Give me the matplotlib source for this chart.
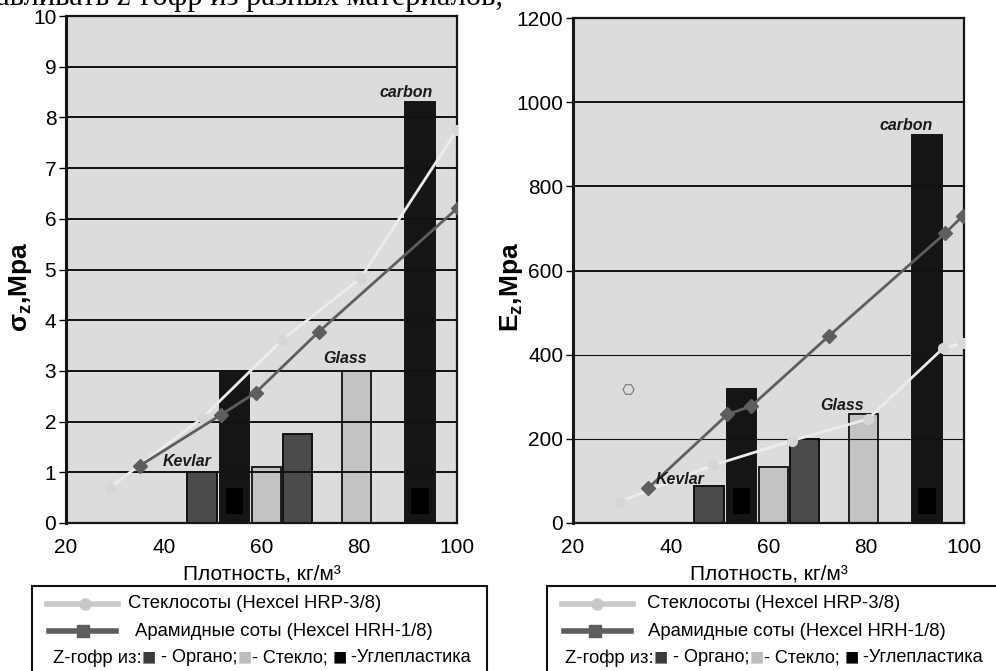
import matplotlib
matplotlib.use("Agg")
import matplotlib.pyplot as plt
import matplotlib.text as mtext
from matplotlib.patches import Rectangle
from matplotlib.lines import Line2D

plt.rcParams['font.family'] = ['Liberation Sans', 'DejaVu Sans']
plt.rcParams['mathtext.fontset'] = 'custom'
plt.rcParams['mathtext.rm'] = 'Liberation Sans'
plt.rcParams['mathtext.it'] = 'Liberation Sans:italic'
plt.rcParams['mathtext.bf'] = 'Liberation Sans:bold'

# ---------------- data ----------------
bar_x = [47.8, 54.5, 61.0, 67.4, 79.4, 92.4]
bar_type = ['organo', 'carbon', 'glass', 'organo', 'glass', 'carbon']
sigma_bars = [1.0, 3.0, 1.1, 1.75, 3.0, 8.3]
E_bars = [89, 319, 132, 199, 258, 923]

glass_hc_x_sigma = [29.0, 48.0, 64.2, 80.3, 100.0]
glass_hc_sigma = [0.70, 2.08, 3.61, 4.83, 7.75]
aramid_x_sigma = [35.1, 51.8, 58.8, 71.7, 100.2]
aramid_sigma = [1.13, 2.14, 2.57, 3.77, 6.22]

glass_hc_x_E = [29.6, 48.6, 64.9, 80.3, 95.7, 99.7]
glass_hc_E = [51, 137, 196, 247, 415, 427]
aramid_x_E = [35.3, 51.6, 56.5, 72.4, 96.1, 99.8]
aramid_E = [82, 258, 278, 445, 688, 730]

x_ticks = [20, 40, 60, 80, 100]
sigma_ticks = list(range(0, 11))
E_ticks = [0, 200, 400, 600, 800, 1000, 1200]

sigma_labels_pos = {'Kevlar': (44.7, 1.22), 'Glass': (77.0, 3.24), 'carbon': (89.6, 8.5)}
E_labels_pos = {'Kevlar': (41.9, 104), 'Glass': (75.0, 280), 'carbon': (88.2, 945)}
stray_marker_E = (31.3, 318)

xlabel = 'Плотность, кг/м³'
ylabel_sigma = 'σ$_\\mathbf{z}$,Мра'
ylabel_E = 'E$_\\mathbf{z}$,Мра'
legend_glass = 'Стеклосоты (Hexcel HRP-3/8)'
legend_aramid = 'Арамидные соты (Hexcel HRH-1/8)'
legend_z = ['Z-гофр из:', '■', ' - Органо;', '■', '- Стекло; ', '■', ' -Углепластика']
top_text = 'авливать z-гофр из разных материалов,'

# ---------------- style ----------------
bar_width = 6.0
face = {'organo': '#4b4b4b', 'glass': '#c3c3c3', 'carbon': '#151515'}
edge = {'organo': '#111111', 'glass': '#1e1e1e', 'carbon': '#151515'}
light_col = '#ececec'
light_mk = '#d6d6d6'
dark_col = '#5e5e5e'
bg = '#dcdcdc'
z_colors = ['black', '#3c3c3c', 'black', '#bdbdbd', 'black', '#000000', 'black']

W, H = 996, 671
fig = plt.figure(figsize=(W / 100, H / 100), dpi=100)


def fx(px):
    return px / W


def fy(py):
    return 1 - py / H


def make_axes(left, right, top, bottom):
    return fig.add_axes([fx(left), fy(bottom), fx(right - left), (bottom - top) / H])


def draw_chart(ax, bars, ymax, ticks, gx, gy, ax_, ay_, labpos, thin_grid):
    ax.set_facecolor(bg)
    for xc, h, t in zip(bar_x, bars, bar_type):
        ax.bar(xc, h, width=bar_width, color=face[t], edgecolor=edge[t],
               linewidth=1.4, zorder=1)
        if t == 'carbon':
            ax.bar(xc, 0.052 * ymax, width=bar_width * 0.6, bottom=0.018 * ymax,
                   color='#000000', linewidth=0, zorder=1.1)
    ax.plot(gx, gy, color=light_col, lw=2.0, marker='o', ms=7,
            mfc=light_mk, mec=light_mk, zorder=3)
    ax.plot(ax_, ay_, color=dark_col, lw=2.0, marker='D', ms=7,
            mfc=dark_col, mec=dark_col, zorder=3.2)
    ax.set_xlim(20, 100)
    ax.set_ylim(0, ymax)
    ax.set_xticks(x_ticks)
    ax.set_yticks(ticks)
    ax.set_axisbelow('line')
    ax.yaxis.grid(True, color='#111111', lw=1.4)
    if thin_grid:
        for gl, tv in zip(ax.get_ygridlines(), ticks):
            if tv in thin_grid:
                gl.set_linewidth(0.8)
    ax.tick_params(axis='y', length=5, width=1, pad=2, labelsize=15, direction='out')
    ax.tick_params(axis='x', length=0, pad=11, labelsize=15)
    for s in ax.spines.values():
        s.set_color('#151515')
        s.set_linewidth(1.6)
    ax.spines['left'].set_linewidth(2.2)
    for name, (lx, ly) in labpos.items():
        ax.text(lx, ly, name, ha='center', va='center', fontsize=11.5,
                fontweight='bold', fontstyle='italic', color='#1a1a1a', zorder=4)
    ax.set_xlabel(xlabel, fontsize=15, labelpad=5)


ax1 = make_axes(66, 457, 16, 523)
draw_chart(ax1, sigma_bars, 10, sigma_ticks, glass_hc_x_sigma, glass_hc_sigma,
           aramid_x_sigma, aramid_sigma, sigma_labels_pos, None)
fig.text(fx(21), fy(287), ylabel_sigma, rotation=90, ha='center', va='center',
         fontsize=19, fontweight='bold')

ax2 = make_axes(573, 964, 18, 523)
draw_chart(ax2, E_bars, 1200, E_ticks, glass_hc_x_E, glass_hc_E,
           aramid_x_E, aramid_E, E_labels_pos, [200, 400])
ax2.plot(*stray_marker_E, marker='H', ms=8, mfc='none', mec='#777777', mew=0.8, zorder=4)
fig.text(fx(511), fy(287), ylabel_E, rotation=90, ha='center', va='center',
         fontsize=19, fontweight='bold')

# top cropped text
fig.text(fx(-4), fy(5), top_text, fontsize=22, family=['Liberation Serif', 'DejaVu Serif'],
         ha='left', va='baseline')


# ---------------- legend boxes ----------------
def legend_box(x0, x1, line_x0, line_x1, mk_x, text_x1, text_x2, z_x):
    fig.add_artist(Rectangle((fx(x0), fy(700)), fx(x1 - x0), (700 - 586) / H,
                             transform=fig.transFigure, facecolor='white',
                             edgecolor='#111111', lw=1.5))
    r1, r2, r3 = 604, 631, 658
    fig.add_artist(Line2D([fx(line_x0), fx(line_x1)], [fy(r1), fy(r1)],
                          transform=fig.transFigure, color='#c8c8c8', lw=4))
    fig.add_artist(Line2D([fx(mk_x)], [fy(r1)], transform=fig.transFigure,
                          marker='o', ms=8, color='#c8c8c8'))
    fig.add_artist(Line2D([fx(line_x0 + 2), fx(line_x1 - 2)], [fy(r2), fy(r2)],
                          transform=fig.transFigure, color=dark_col, lw=4))
    fig.add_artist(Line2D([fx(mk_x - 2)], [fy(r2)], transform=fig.transFigure,
                          marker='s', ms=8, color=dark_col))
    fig.text(fx(text_x1), fy(r1), legend_glass, fontsize=13.3, va='center', ha='left')
    fig.text(fx(text_x2), fy(r2), legend_aramid, fontsize=13.3, va='center', ha='left')
    prev = fig.text(fx(z_x), fy(r3), legend_z[0], fontsize=13.3, va='center', ha='left',
                    color=z_colors[0])
    for piece, c in zip(legend_z[1:], z_colors[1:]):
        sq = piece == '■'
        prev = fig.add_artist(mtext.Annotation(
            piece, xy=(1, 0.5), xycoords=prev, va='center', ha='left',
            fontsize=17 if sq else 13.1, color=c))


legend_box(32, 487, 47, 118, 85, 128, 135, 53)
legend_box(547, 1010, 562, 633, 597, 647, 648, 565)

fig.savefig('out.png', dpi=100)
